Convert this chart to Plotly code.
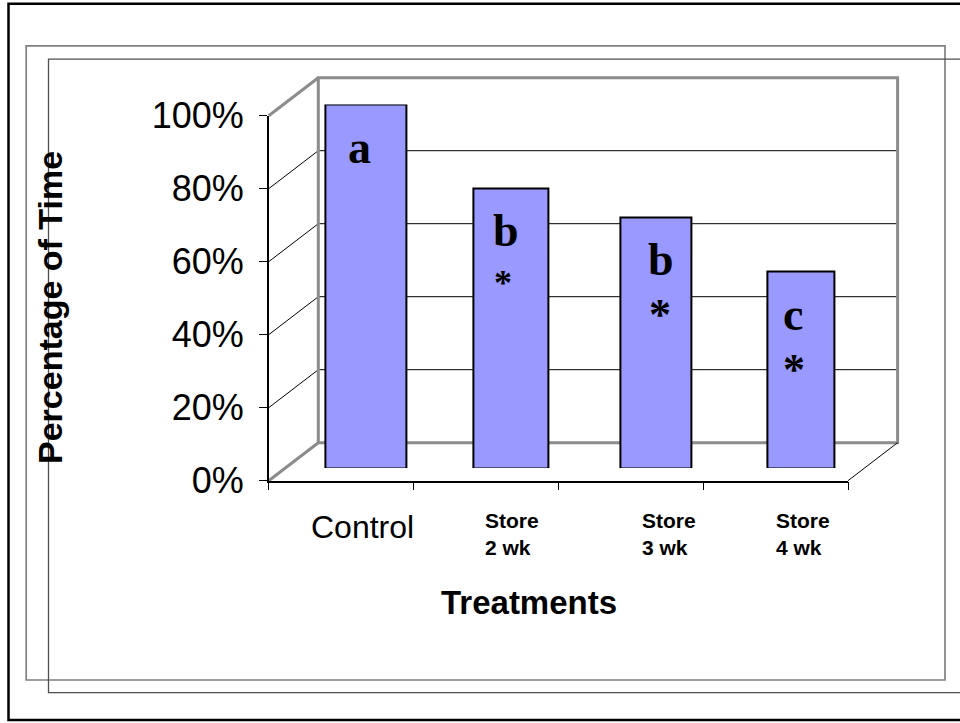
import plotly.graph_objects as go

# ---- data ----
CATEGORIES = ["Control", "Store 2 wk", "Store 3 wk", "Store 4 wk"]
TICK_LABELS = ["Control", "Store<br>2 wk", "Store<br>3 wk", "Store<br>4 wk"]
VALUES = [1.00, 0.77, 0.69, 0.54]
GROUP_LETTERS = ["a", "b", "b", "c"]
SIG_MARKS = ["", "*", "*", "*"]
Y_TICKS = [0.0, 0.2, 0.4, 0.6, 0.8, 1.0]
X_TITLE = "Treatments"
Y_TITLE = "Percentage of Time"

# ---- page geometry (pixels) ----
W, H = 960, 723


def px(x):
    return x / W


def py(y):
    return 1 - y / H


FRONT_LEFT, FRONT_RIGHT = 268.7, 848.0   # front floor edge
FRONT_BASE = 480.7                       # 0% on the front axis
UNIT = 365.0                             # pixels per 100%
DEPTH_X, DEPTH_Y = 49.6, -38.0           # oblique depth offset of the back wall
BACK_LEFT = FRONT_LEFT + DEPTH_X
BACK_RIGHT = FRONT_RIGHT + DEPTH_X
BACK_BASE = FRONT_BASE + DEPTH_Y

BAR_BASE, BAR_TOP = 468.0, 104.5         # bar plane: 0% and 100%
BAR_LEFT, BAR_RIGHT = 293.4, 873.4

BAR_WIDTHS = [0.556, 0.524, 0.494, 0.462]
LABEL_SHIFTS = [-3, 1, 13, 2]
LETTER_SHIFTS = [-6, -5, 5, -8]
STAR_SHIFTS = [0, -8, 4, -7]
STAR_SIZES = [44, 36, 44, 44]

SANS = "Arial, 'Liberation Sans', sans-serif"
SERIF = "'Times New Roman', 'Liberation Serif', serif"
BAR_COLOR = "#9999FF"
WALL_GRAY = "#8c8c8c"

fig = go.Figure()

fig.add_trace(go.Bar(
    x=CATEGORIES, y=VALUES, width=BAR_WIDTHS,
    marker=dict(color=BAR_COLOR, line=dict(color="black", width=2)),
    hoverinfo="skip", showlegend=False,
))

# anchor trace for the front axes
fig.add_trace(go.Scatter(
    x=list(range(len(CATEGORIES))), y=VALUES, xaxis="x2", yaxis="y2",
    mode="markers", marker=dict(opacity=0), hoverinfo="skip", showlegend=False,
))

shapes = []
# frames around the chart
shapes.append(dict(type="rect", xref="paper", yref="paper", layer="below",
                   x0=px(8.5), x1=px(975), y0=py(720), y1=py(3.7),
                   line=dict(color="black", width=2.5)))
shapes.append(dict(type="rect", xref="paper", yref="paper", layer="below",
                   x0=px(26.2), x1=px(945), y0=py(680), y1=py(45.8),
                   line=dict(color="#808080", width=1.7)))
shapes.append(dict(type="rect", xref="paper", yref="paper", layer="below",
                   x0=px(48.5), x1=px(975), y0=py(692.7), y1=py(59.2),
                   line=dict(color="#505050", width=1.3)))

# back wall gridlines and side-wall lines at each tick
for v in Y_TICKS:
    yb = BACK_BASE - v * UNIT
    yf = FRONT_BASE - v * UNIT
    edge = v in (Y_TICKS[0], Y_TICKS[-1])
    if not edge:
        shapes.append(dict(type="line", xref="paper", yref="paper", layer="below",
                           x0=px(BACK_LEFT), x1=px(BACK_RIGHT), y0=py(yb), y1=py(yb),
                           line=dict(color="black", width=1)))
    shapes.append(dict(type="line", xref="paper", yref="paper", layer="below",
                       x0=px(FRONT_LEFT), x1=px(BACK_LEFT), y0=py(yf), y1=py(yb),
                       line=dict(color=WALL_GRAY if edge else "black",
                                 width=3 if edge else 1)))

# back wall outline
shapes.append(dict(type="rect", xref="paper", yref="paper", layer="below",
                   x0=px(BACK_LEFT), x1=px(BACK_RIGHT),
                   y0=py(BACK_BASE), y1=py(BACK_BASE - UNIT),
                   line=dict(color=WALL_GRAY, width=3)))
# right floor edge
shapes.append(dict(type="line", xref="paper", yref="paper", layer="below",
                   x0=px(FRONT_RIGHT), x1=px(BACK_RIGHT),
                   y0=py(FRONT_BASE), y1=py(BACK_BASE),
                   line=dict(color="black", width=1)))

annotations = []
for i, cat in enumerate(CATEGORIES):
    is_control = i == 0
    annotations.append(dict(
        x=cat, xref="x", y=py(507), yref="paper",
        xanchor="center", yanchor="top", align="left",
        xshift=LABEL_SHIFTS[i], showarrow=False, text=TICK_LABELS[i],
        font=dict(family=SANS, size=32 if is_control else 21, color="black",
                  weight="normal" if is_control else "bold"),
    ))
    annotations.append(dict(
        x=cat, xref="x", y=VALUES[i], yref="y",
        xanchor="center", yanchor="top", xshift=LETTER_SHIFTS[i], yshift=-15,
        showarrow=False, text=GROUP_LETTERS[i],
        font=dict(family=SERIF, size=46, color="black", weight="bold"),
    ))
    if SIG_MARKS[i]:
        annotations.append(dict(
            x=cat, xref="x", y=VALUES[i], yref="y",
            xanchor="center", yanchor="top", xshift=STAR_SHIFTS[i],
            yshift=-(71 if STAR_SIZES[i] >= 44 else 73),
            showarrow=False, text=SIG_MARKS[i],
            font=dict(family=SERIF, size=STAR_SIZES[i], color="black", weight="bold"),
        ))

annotations.append(dict(
    x=px(529), y=py(602.6), xref="paper", yref="paper",
    xanchor="center", yanchor="middle", showarrow=False, text=X_TITLE,
    font=dict(family=SANS, size=33, color="black", weight="bold"),
))
annotations.append(dict(
    x=px(50), y=py(308), xref="paper", yref="paper",
    xanchor="center", yanchor="middle", textangle=-90, showarrow=False, text=Y_TITLE,
    font=dict(family=SANS, size=34, color="black", weight="bold"),
))

fig.update_layout(
    width=W, height=H,
    margin=dict(l=0, r=0, t=0, b=0, pad=0, autoexpand=False),
    paper_bgcolor="white", plot_bgcolor="rgba(0,0,0,0)",
    showlegend=False,
    bargap=0,
    xaxis=dict(domain=[px(BAR_LEFT), px(BAR_RIGHT)], type="category",
               range=[-0.5, len(CATEGORIES) - 0.5], automargin=False,
               showgrid=False, zeroline=False, showline=False,
               showticklabels=False, ticks=""),
    yaxis=dict(domain=[py(BAR_BASE), py(BAR_TOP)], range=[0, 1], automargin=False,
               showgrid=False, zeroline=False, showline=False,
               showticklabels=False, ticks=""),
    xaxis2=dict(domain=[px(FRONT_LEFT), px(FRONT_RIGHT)], anchor="y2",
                range=[-0.5, len(CATEGORIES) - 0.5], automargin=False,
                tickvals=[k - 0.5 for k in range(len(CATEGORIES) + 1)],
                ticks="outside", ticklen=8, tickwidth=1.3, tickcolor="black",
                showline=True, linecolor="black", linewidth=1.5,
                showgrid=False, zeroline=False, showticklabels=False),
    yaxis2=dict(domain=[py(FRONT_BASE), py(FRONT_BASE - UNIT)], anchor="x2",
                range=[0, 1], tickvals=Y_TICKS, tickformat=".0%", automargin=False,
                ticks="outside", ticklen=8, tickwidth=1.3, tickcolor="black",
                showline=True, linecolor="black", linewidth=1.5,
                showgrid=False, zeroline=False, ticklabelstandoff=8,
                tickfont=dict(family=SANS, size=36, color="black")),
    shapes=shapes,
    annotations=annotations,
)

fig.write_html("out.html")
